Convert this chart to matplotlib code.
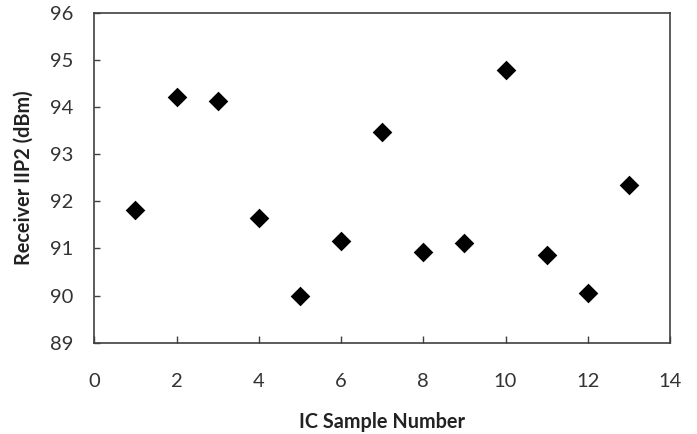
import matplotlib
matplotlib.use("Agg")
import matplotlib.pyplot as plt

samples = [1, 2, 3, 4, 5, 6, 7, 8, 9, 10, 11, 12, 13]
iip2 = [91.81, 94.22, 94.13, 91.65, 90.00, 91.16, 93.46, 90.92, 91.11, 94.78, 90.86, 90.05, 92.35]
xticks = [0, 2, 4, 6, 8, 10, 12, 14]
yticks = [89, 90, 91, 92, 93, 94, 95, 96]

plt.rcParams['font.family'] = ['Lato', 'DejaVu Sans']

fig = plt.figure(figsize=(6.97, 4.34), dpi=100)
ax = fig.add_axes([0.1353, 0.2104, 0.8260, 0.7603])
ax.scatter(samples, iip2, marker='D', s=100, color='black', zorder=3, linewidths=0)
ax.set_xlim(0, 14)
ax.set_ylim(89, 96)
ax.set_xticks(xticks)
ax.set_yticks(yticks)
ax.tick_params(axis='x', direction='in', length=5, width=1, pad=22, labelsize=14.5, colors='#404040', labelcolor='#333333')
ax.tick_params(axis='y', direction='in', length=4.5, width=1, pad=15, labelsize=14.5, colors='#404040', labelcolor='#333333')
for s in ax.spines.values():
    s.set_color('#404040')
    s.set_linewidth(1.2)
ax.set_xlabel('IC Sample Number', fontsize=14.3, fontweight='bold', labelpad=16, color='#222222')
ax.set_ylabel('Receiver IIP2 (dBm)', fontsize=14.3, fontweight='bold', labelpad=12, color='#222222')
fig.savefig('out.png', dpi=100)
